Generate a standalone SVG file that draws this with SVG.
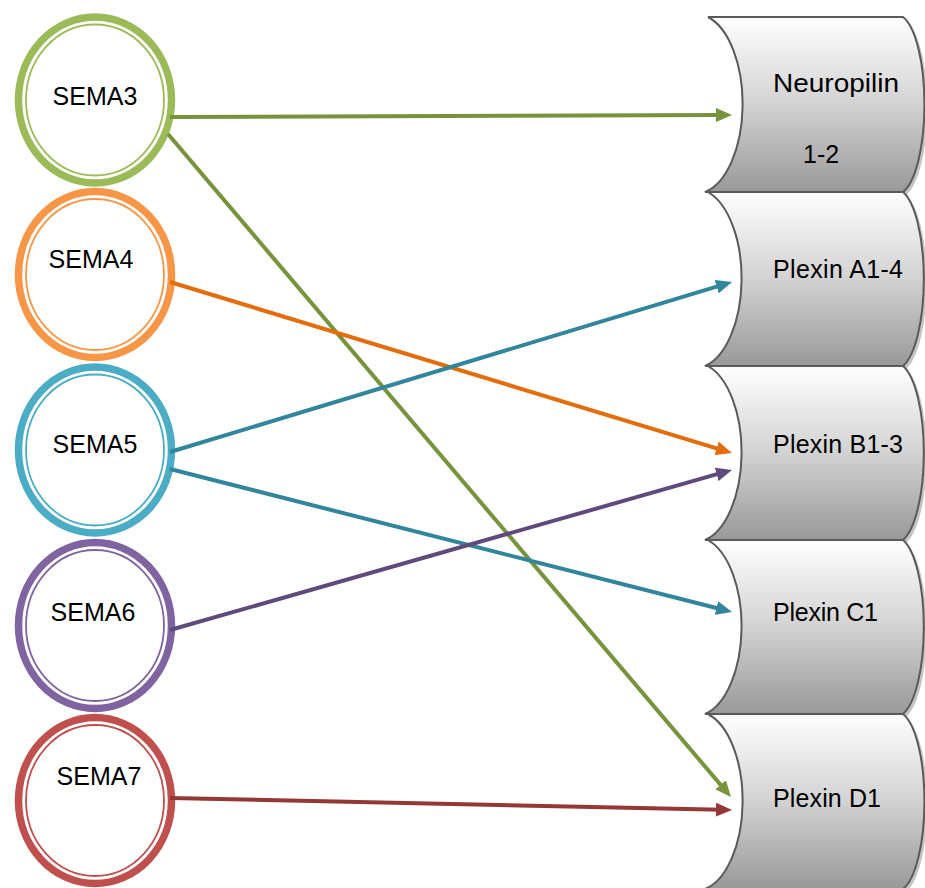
<svg xmlns="http://www.w3.org/2000/svg" width="925" height="888" viewBox="0 0 925 888">
<style>
.ring{fill:#fff;stroke-width:7.5}
.thin{fill:none;stroke-width:1.8}
.lbl{font-family:"Liberation Sans",Arial,sans-serif;font-size:25px;fill:#000}
.box{stroke:#5a5a5a;stroke-width:2;fill:url(#g)}
.shadow{fill:#c4c4c4}
.con{fill:none;stroke-width:4}
</style>
<defs>
<linearGradient id="g" x1="0" y1="0" x2="0" y2="1">
<stop offset="0" stop-color="#ffffff"/>
<stop offset="0.5" stop-color="#d2d2d2"/>
<stop offset="1" stop-color="#999999"/>
</linearGradient>
<marker id="mG" viewBox="0 0 16 14" markerWidth="16" markerHeight="14" refX="6" refY="7" orient="auto" markerUnits="userSpaceOnUse"><path d="M0,0 L16,7 L0,14 z" fill="#77933c"/></marker>
<marker id="mO" viewBox="0 0 16 14" markerWidth="16" markerHeight="14" refX="6" refY="7" orient="auto" markerUnits="userSpaceOnUse"><path d="M0,0 L16,7 L0,14 z" fill="#e46c0a"/></marker>
<marker id="mT" viewBox="0 0 16 14" markerWidth="16" markerHeight="14" refX="6" refY="7" orient="auto" markerUnits="userSpaceOnUse"><path d="M0,0 L16,7 L0,14 z" fill="#31859c"/></marker>
<marker id="mP" viewBox="0 0 16 14" markerWidth="16" markerHeight="14" refX="6" refY="7" orient="auto" markerUnits="userSpaceOnUse"><path d="M0,0 L16,7 L0,14 z" fill="#604a7b"/></marker>
<marker id="mR" viewBox="0 0 16 14" markerWidth="16" markerHeight="14" refX="6" refY="7" orient="auto" markerUnits="userSpaceOnUse"><path d="M0,0 L16,7 L0,14 z" fill="#953735"/></marker>
</defs>

<g id="neuropilin">
<path class="shadow" d="M711,20 L906,20 A28 90 0 0 1 906,195 L708,195 A47 90 0 0 0 711,20 Z"/>
<path class="box" d="M708,17 L903,17 A28 90 0 0 1 903,192 L705,192 A47 90 0 0 0 708,17 Z"/>
<text class="lbl" x="773" y="92" textLength="126" lengthAdjust="spacingAndGlyphs">Neuropilin</text>
<text class="lbl" x="803" y="163">1-2</text>
</g>
<g id="plexinA">
<path class="shadow" d="M711,195 L906,195 A28 90 0 0 1 906,369 L708,369 A47 90 0 0 0 711,195 Z"/>
<path class="box" d="M708,192 L903,192 A28 90 0 0 1 903,366 L705,366 A47 90 0 0 0 708,192 Z"/>
<text class="lbl" x="773" y="278" textLength="130" lengthAdjust="spacing">Plexin A1-4</text>
</g>
<g id="plexinB">
<path class="shadow" d="M711,369 L906,369 A28 90 0 0 1 906,543 L708,543 A47 90 0 0 0 711,369 Z"/>
<path class="box" d="M708,366 L903,366 A28 90 0 0 1 903,540 L705,540 A47 90 0 0 0 708,366 Z"/>
<text class="lbl" x="773" y="453" textLength="130" lengthAdjust="spacing">Plexin B1-3</text>
</g>
<g id="plexinC">
<path class="shadow" d="M711,543 L906,543 A28 90 0 0 1 906,717 L708,717 A47 90 0 0 0 711,543 Z"/>
<path class="box" d="M708,540 L903,540 A28 90 0 0 1 903,714 L705,714 A47 90 0 0 0 708,540 Z"/>
<text class="lbl" x="773" y="621" textLength="105" lengthAdjust="spacing">Plexin C1</text>
</g>
<g id="plexinD">
<path class="shadow" d="M711,717 L906,717 A28 90 0 0 1 906,892 L708,892 A47 90 0 0 0 711,717 Z"/>
<path class="box" d="M708,714 L903,714 A28 90 0 0 1 903,889 L705,889 A47 90 0 0 0 708,714 Z"/>
<text class="lbl" x="773" y="807" textLength="108" lengthAdjust="spacing">Plexin D1</text>
</g>

<g id="sema3">
<ellipse class="ring" cx="95" cy="100" rx="76.5" ry="83" stroke="#9bbb59"/>
<ellipse class="thin" cx="95" cy="100" rx="69" ry="75.5" stroke="#9bbb59"/>
<text class="lbl" x="95" y="105" text-anchor="middle">SEMA3</text>
</g>
<g id="sema4">
<ellipse class="ring" cx="95" cy="274.5" rx="76.5" ry="83" stroke="#f79646"/>
<ellipse class="thin" cx="95" cy="274.5" rx="69" ry="75.5" stroke="#f79646"/>
<text class="lbl" x="91" y="268" text-anchor="middle">SEMA4</text>
</g>
<g id="sema5">
<ellipse class="ring" cx="95" cy="450" rx="76.5" ry="83" stroke="#4bacc6"/>
<ellipse class="thin" cx="95" cy="450" rx="69" ry="75.5" stroke="#4bacc6"/>
<text class="lbl" x="95" y="453" text-anchor="middle">SEMA5</text>
</g>
<g id="sema6">
<ellipse class="ring" cx="95" cy="625.5" rx="76.5" ry="83" stroke="#8064a2"/>
<ellipse class="thin" cx="95" cy="625.5" rx="69" ry="75.5" stroke="#8064a2"/>
<text class="lbl" x="93" y="621" text-anchor="middle">SEMA6</text>
</g>
<g id="sema7">
<ellipse class="ring" cx="95" cy="800.5" rx="76.5" ry="83" stroke="#c0504d"/>
<ellipse class="thin" cx="95" cy="800.5" rx="69" ry="75.5" stroke="#c0504d"/>
<text class="lbl" x="99" y="785" text-anchor="middle">SEMA7</text>
</g>

<g id="connectors">
<path class="con" stroke="#77933c" marker-end="url(#mG)" d="M170,117 L722,115"/>
<path class="con" stroke="#77933c" marker-end="url(#mG)" d="M168,134 L724.5,789.4"/>
<path class="con" stroke="#e46c0a" marker-end="url(#mO)" d="M170,282 L722.4,450.1"/>
<path class="con" stroke="#31859c" marker-end="url(#mT)" d="M170,452 L722.4,284.9"/>
<path class="con" stroke="#31859c" marker-end="url(#mT)" d="M170,469 L722.3,609.5"/>
<path class="con" stroke="#604a7b" marker-end="url(#mP)" d="M170,630 L722.4,472.7"/>
<path class="con" stroke="#953735" marker-end="url(#mR)" d="M170,798 L722,809.8"/>
</g>
</svg>
